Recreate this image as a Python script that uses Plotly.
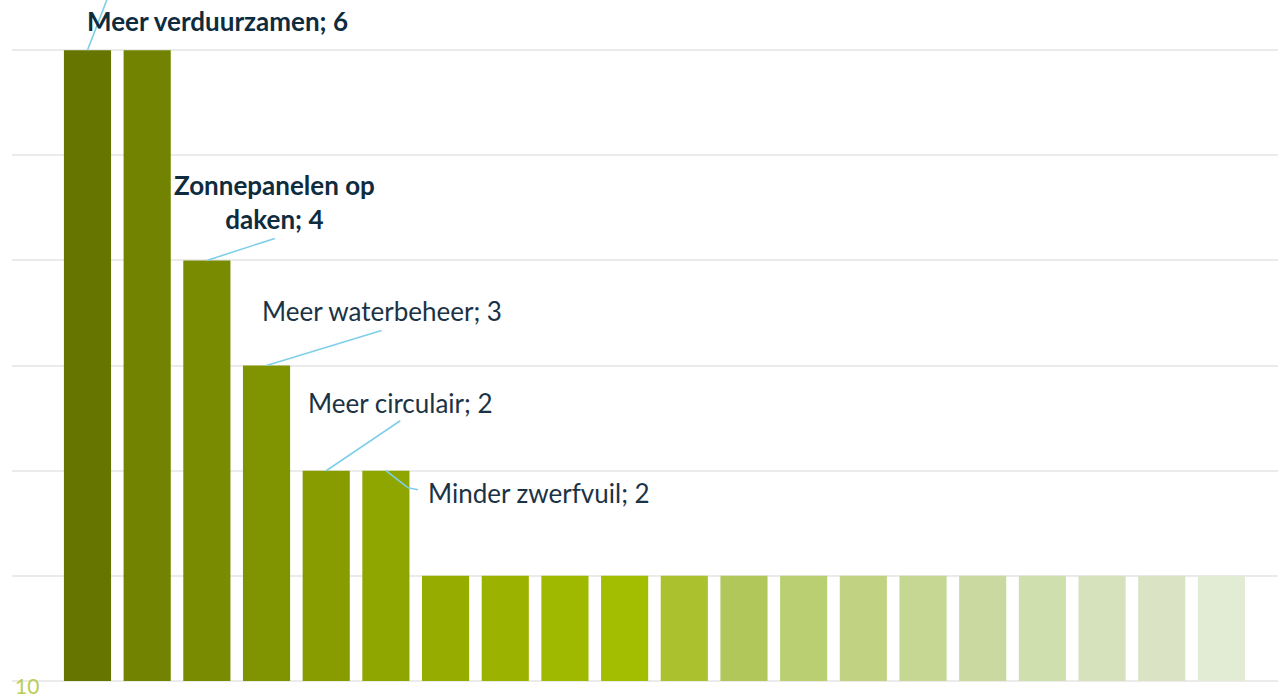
import plotly.graph_objects as go

categories = [f"Item {i}" for i in range(1, 21)]
categories[0] = "Meer verduurzamen"
categories[2] = "Zonnepanelen op daken"
categories[3] = "Meer waterbeheer"
categories[4] = "Meer circulair"
categories[5] = "Minder zwerfvuil"
values = [6, 6, 4, 3, 2, 2, 1, 1, 1, 1, 1, 1, 1, 1, 1, 1, 1, 1, 1, 1]
colors = ["#657500", "#718300", "#798b00", "#809300", "#889c00", "#8fa600",
          "#96ad00", "#9bb300", "#9fb800", "#a3be00", "#abc22e", "#b2c75a",
          "#bacf72", "#c1d283", "#c6d693", "#cad9a0", "#d0dfae", "#d6e2bb",
          "#dae4c5", "#e2ebd3"]

# labels: (bar index, text, bold, xshift, yshift, leader segments in px)
labels = [
    (0, "Meer verduurzamen; 6", True, 130, 29, [(0, 0, 20, 52)]),
    (2, "Zonnepanelen op<br>daken; 4", True, 68, 58, [(0, 0, 68, 22)]),
    (3, "Meer waterbeheer; 3", False, 115, 55, [(0, 0, 115, 35)]),
    (4, "Meer circulair; 2", False, 74, 68, [(0, 0, 74, 50)]),
    (5, "Minder zwerfvuil; 2", False, 153, -22, [(0, 0, 22, -17), (22, -17, 32, -19)]),
]

fig = go.Figure()
fig.add_trace(go.Bar(x=categories, y=values, marker=dict(color=colors, line=dict(width=0)),
                     hoverinfo="x+y"))

FONT = "Lato"
for idx, text, bold, xs, ys, segs in labels:
    fig.add_annotation(x=categories[idx], y=values[idx], xref="x", yref="y",
                       text=f"<b>{text}</b>" if bold else text, showarrow=False,
                       xshift=xs, yshift=ys, xanchor="center", yanchor="middle",
                       font=dict(family=FONT, size=26,
                                 color="#0e2c3e" if bold else "#1b3345"))
    for x0, y0, x1, y1 in segs:
        fig.add_shape(type="line", xref="x", yref="y",
                      xsizemode="pixel", ysizemode="pixel",
                      xanchor=categories[idx], yanchor=values[idx],
                      x0=x0, y0=y0, x1=x1, y1=y1,
                      line=dict(color="#7fcfe8", width=1.6))

fig.add_annotation(x=0.0, y=0.0, xref="paper", yref="paper", text="10",
                   showarrow=False, xanchor="left", yanchor="top", xshift=1, yshift=10,
                   font=dict(family=FONT, size=21, color="#b9cd55"))

fig.update_layout(
    width=1278, height=697,
    margin=dict(l=12, r=0, t=0, b=16),
    paper_bgcolor="white", plot_bgcolor="white",
    bargap=0.21, showlegend=False,
    xaxis=dict(range=[-1.265, 19.948], showticklabels=False, showgrid=False,
               zeroline=False, showline=False, ticks=""),
    yaxis=dict(range=[0, 6.477], dtick=1, showticklabels=False, showgrid=True,
               gridcolor="#ebebeb", gridwidth=2, zeroline=True,
               zerolinecolor="#ebebeb", zerolinewidth=2, ticks=""),
)

fig.write_html("out.html", config={"displayModeBar": False},
               post_script="document.body.style.margin='0';document.body.style.overflow='hidden';")
